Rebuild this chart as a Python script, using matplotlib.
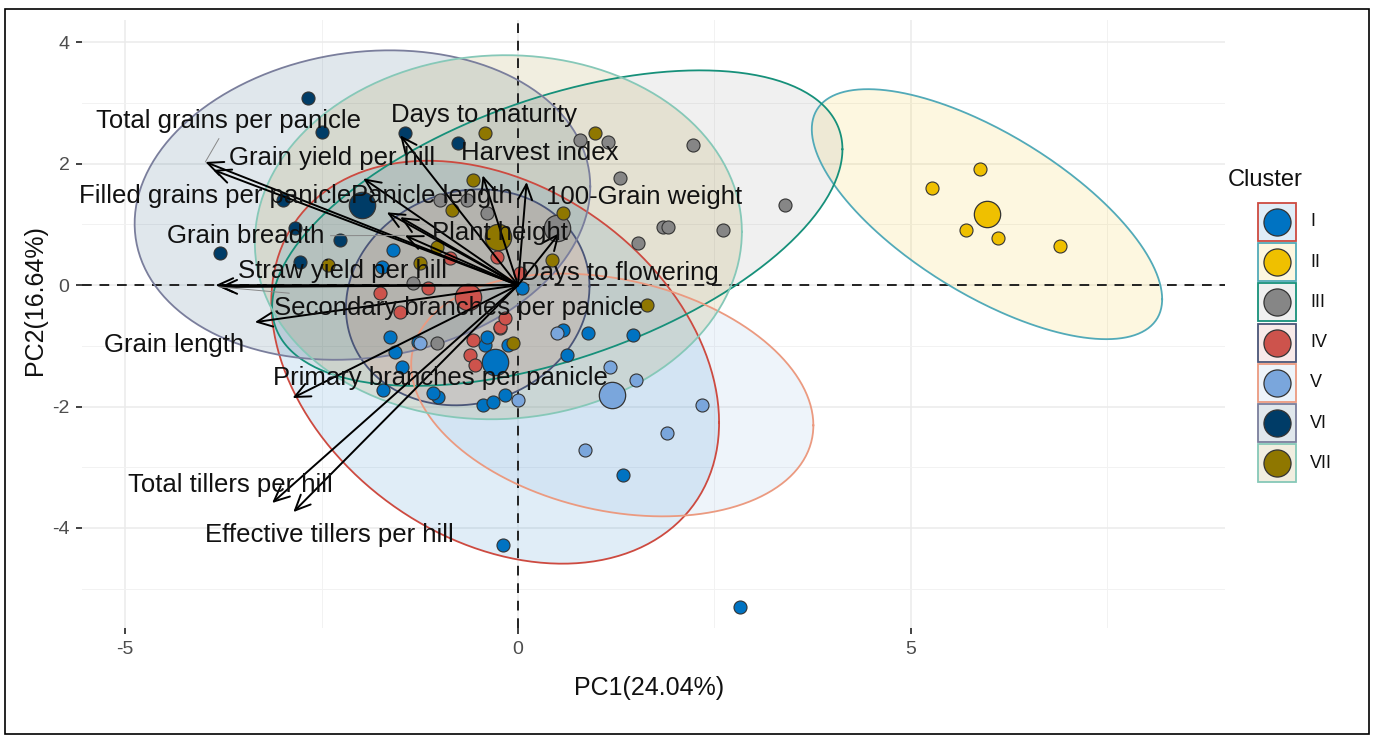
import numpy as np
import matplotlib
matplotlib.use('Agg')
import matplotlib.pyplot as plt
from matplotlib.patches import Rectangle

plt.rcParams['font.family'] = ['Liberation Sans', 'DejaVu Sans']
plt.rcParams['axes.unicode_minus'] = False

# ---- data ----
clusters = ['I', 'II', 'III', 'IV', 'V', 'VI', 'VII']
point_colors = ['#0073C2', '#EFC000', '#868686', '#CD534C', '#7AA6DC', '#003C67', '#8F7700']
line_colors = ['#CD4A40', '#52AAB8', '#16907A', '#4A5578', '#EB9A80', '#7A7E9C', '#86C8B8']

pc1_I = [0.57, 0.89, 1.46, 0.62, -0.42, -0.13, 1.34, 2.82, -0.19, -0.45, -0.32, -0.17,
         -1.02, -1.08, -1.56, -1.48, -1.27, -1.72, -1.59, -1.73, 0.05, -0.39, -1.63]
pc2_I = [-0.74, -0.79, -0.82, -1.15, -0.99, -0.99, -3.13, -5.30, -4.28, -1.98, -1.93, -1.81,
         -1.85, -1.78, -1.10, -1.35, -0.94, -1.73, 0.58, 0.30, -0.05, -0.86, -0.86]
pc1_II = [5.27, 5.88, 5.70, 6.11, 6.90]
pc2_II = [1.60, 1.91, 0.91, 0.77, 0.64]
pc1_III = [0.79, 1.15, 2.23, 1.30, 3.40, 1.84, 1.91, 2.61, 1.53, -0.99, -0.65, -0.39, -1.34, -1.03, -0.23]
pc2_III = [2.39, 2.36, 2.31, 1.76, 1.32, 0.96, 0.96, 0.91, 0.69, 1.40, 1.40, 1.19, 0.03, -0.96, -0.71]
pc1_IV = [-1.76, -1.50, -1.15, -0.87, -0.27, -0.57, -0.61, -0.55, -0.23, -0.17, 0.03]
pc2_IV = [-0.13, -0.44, -0.05, 0.44, 0.46, -0.91, -1.15, -1.32, -0.69, -0.54, 0.20]
pc1_V = [1.17, 1.50, 2.34, 1.90, 0.85, 0.00, 0.50, -1.25]
pc2_V = [-1.35, -1.57, -1.98, -2.44, -2.72, -1.89, -0.79, -0.96]
pc1_VI = [-2.67, -2.49, -1.44, -3.79, -0.76, -2.84, -2.26, -2.77, -2.99]
pc2_VI = [3.08, 2.52, 2.50, 0.53, 2.34, 0.94, 0.74, 0.38, 1.40]
pc1_VII = [-0.42, 0.98, -0.57, -0.84, 0.57, -1.03, -2.42, -1.25, 0.43, 1.64, -0.06]
pc2_VII = [2.50, 2.50, 1.73, 1.24, 1.19, 0.63, 0.33, 0.36, 0.41, -0.33, -0.96]

cent_pc1 = [-0.29, 5.97, 0.50, -0.64, 1.20, -1.98, -0.25]
cent_pc2 = [-1.27, 1.17, 0.94, -0.20, -1.81, 1.32, 0.79]

# ellipse half-extent along each axis and correlation
ell_sx = [2.85, 2.23, 3.63, 1.55, 2.56, 2.90, 3.10]
ell_sy = [3.32, 2.06, 2.60, 1.78, 2.00, 2.55, 3.00]
ell_rho = [-0.30, -0.68, 0.50, 0.10, -0.25, 0.12, 0.03]

variables = ['Total grains per panicle', 'Grain yield per hill', 'Filled grains per panicle',
             'Panicle length', 'Plant height', 'Grain breadth', 'Days to maturity',
             'Harvest index', '100-Grain weight', 'Days to flowering', 'Straw yield per hill',
             'Secondary branches per panicle', 'Grain length', 'Primary branches per panicle',
             'Total tillers per hill', 'Effective tillers per hill']
load_pc1 = [-3.98, -3.88, -1.97, -1.67, -1.50, -1.44, -1.50, -0.45, 0.11, 0.53, -3.85,
            -3.80, -3.35, -2.87, -3.13, -2.86]
load_pc2 = [2.03, 1.90, 1.76, 1.20, 1.12, 0.82, 2.47, 1.81, 1.70, 0.86, 0.00,
            -0.03, -0.61, -1.86, -3.59, -3.74]
label_pc1 = [-3.68, -2.37, -3.85, -1.09, -0.23, -3.46, -0.43, 0.28, 1.60, 1.30, -2.24,
             -0.76, -4.38, -0.99, -3.66, -2.40]
label_pc2 = [2.70, 2.09, 1.47, 1.47, 0.86, 0.81, 2.80, 2.17, 1.45, 0.20, 0.23,
             -0.38, -0.99, -1.53, -3.29, -4.12]
with_segment = [True, False, False, False, False, True, False, False, False, False, False,
                True, False, False, False, False]

pc1_pts = [pc1_I, pc1_II, pc1_III, pc1_IV, pc1_V, pc1_VI, pc1_VII]
pc2_pts = [pc2_I, pc2_II, pc2_III, pc2_IV, pc2_V, pc2_VI, pc2_VII]

W, H = 1375, 738
fig = plt.figure(figsize=(W / 100, H / 100), dpi=100)
ax = fig.add_axes([82 / W, 1 - 628 / H, (1225 - 82) / W, (628 - 20) / H])

# ellipses
t = np.linspace(0, 2 * np.pi, 300)
for i in range(len(clusters)):
    ex = cent_pc1[i] + ell_sx[i] * np.cos(t)
    ey = cent_pc2[i] + ell_sy[i] * (ell_rho[i] * np.cos(t) + np.sqrt(1 - ell_rho[i] ** 2) * np.sin(t))
    ax.fill(ex, ey, color=point_colors[i], alpha=0.12, lw=0, zorder=2)
    ax.plot(ex, ey, color=line_colors[i], lw=1.3, zorder=3)

# reference lines
ax.axhline(0, color='#222222', ls=(0, (5, 4)), lw=1.4, zorder=2.5)
ax.axvline(0, color='#222222', ls=(0, (5, 4)), lw=1.4, zorder=2.5)

# individuals
for i in range(len(clusters)):
    ax.scatter(pc1_pts[i], pc2_pts[i], s=88, color=point_colors[i], edgecolor='#333333',
               linewidth=0.8, zorder=4)
    ax.scatter(cent_pc1[i], cent_pc2[i], s=360, color=point_colors[i], edgecolor='#333333',
               linewidth=0.9, zorder=4)

# variable arrows
for i in range(len(variables)):
    ax.annotate('', xy=(load_pc1[i], load_pc2[i]), xytext=(0, 0),
                arrowprops=dict(arrowstyle='->,head_length=0.55,head_width=0.25', color='black',
                                lw=1.4, mutation_scale=20, shrinkA=0, shrinkB=0), zorder=5)
for i in range(len(variables)):
    if with_segment[i]:
        ax.annotate(variables[i], xy=(load_pc1[i], load_pc2[i]), xytext=(label_pc1[i], label_pc2[i]),
                    ha='center', va='center', fontsize=18.5, color='#111111', zorder=6,
                    arrowprops=dict(arrowstyle='-', color='#888888', lw=0.7, shrinkA=2, shrinkB=0))
    else:
        ax.text(label_pc1[i], label_pc2[i], variables[i], ha='center', va='center',
                fontsize=18.5, color='#111111', zorder=6)

ax.set_xlim(-5.55, 9.0)
ax.set_ylim(-5.65, 4.37)
ax.set_xticks([-5, 0, 5])
ax.set_yticks([-4, -2, 0, 2, 4])
ax.set_xticks([-2.5, 2.5, 7.5], minor=True)
ax.set_yticks([-5, -3, -1, 1, 3], minor=True)
ax.grid(True, which='major', color='#EBEBEB', lw=1.1, zorder=0)
ax.grid(True, which='minor', color='#F2F2F2', lw=0.7, zorder=0)
ax.set_axisbelow(True)
for s in ax.spines.values():
    s.set_visible(False)
ax.tick_params(which='major', length=4, width=1.3, color='#333333', labelcolor='#4D4D4D',
               labelsize=14, pad=5)
ax.tick_params(which='minor', length=0)

fig.text(649 / W, 1 - 688 / H, 'PC1(24.04%)', ha='center', va='center', fontsize=18, color='#111111')
fig.text(35 / W, 1 - 300 / H, 'PC2(16.64%)', ha='center', va='center', fontsize=18,
         color='#111111', rotation=90)

# legend
lax = fig.add_axes([1220 / W, 1 - 490 / H, 150 / W, 330 / H])
lax.set_xlim(1220, 1370)
lax.set_ylim(490, 160)
lax.axis('off')
lax.text(1228, 180, 'Cluster', ha='left', va='center', fontsize=17, color='#111111')
for i, lab in enumerate(clusters):
    yc = 222 + 40.2 * i
    lax.add_patch(Rectangle((1258, yc - 19), 38, 38, facecolor='white', edgecolor='none'))
    lax.add_patch(Rectangle((1258, yc - 19), 38, 38, facecolor=point_colors[i], alpha=0.12,
                            edgecolor='none'))
    lax.add_patch(Rectangle((1258, yc - 19), 38, 38, facecolor='none', edgecolor=line_colors[i],
                            lw=1.3))
    lax.scatter([1277], [yc], s=380, color=point_colors[i], edgecolor='#333333', linewidth=0.9)
    lax.text(1310, yc, lab, ha='left', va='center', fontsize=13, color='#111111')

# outer frame
fig.patches.append(Rectangle((5 / W, 1 - 734 / H), 1364 / W, 725 / H, transform=fig.transFigure,
                             fill=False, edgecolor='black', lw=1.2))

fig.savefig('out.png', dpi=100)
